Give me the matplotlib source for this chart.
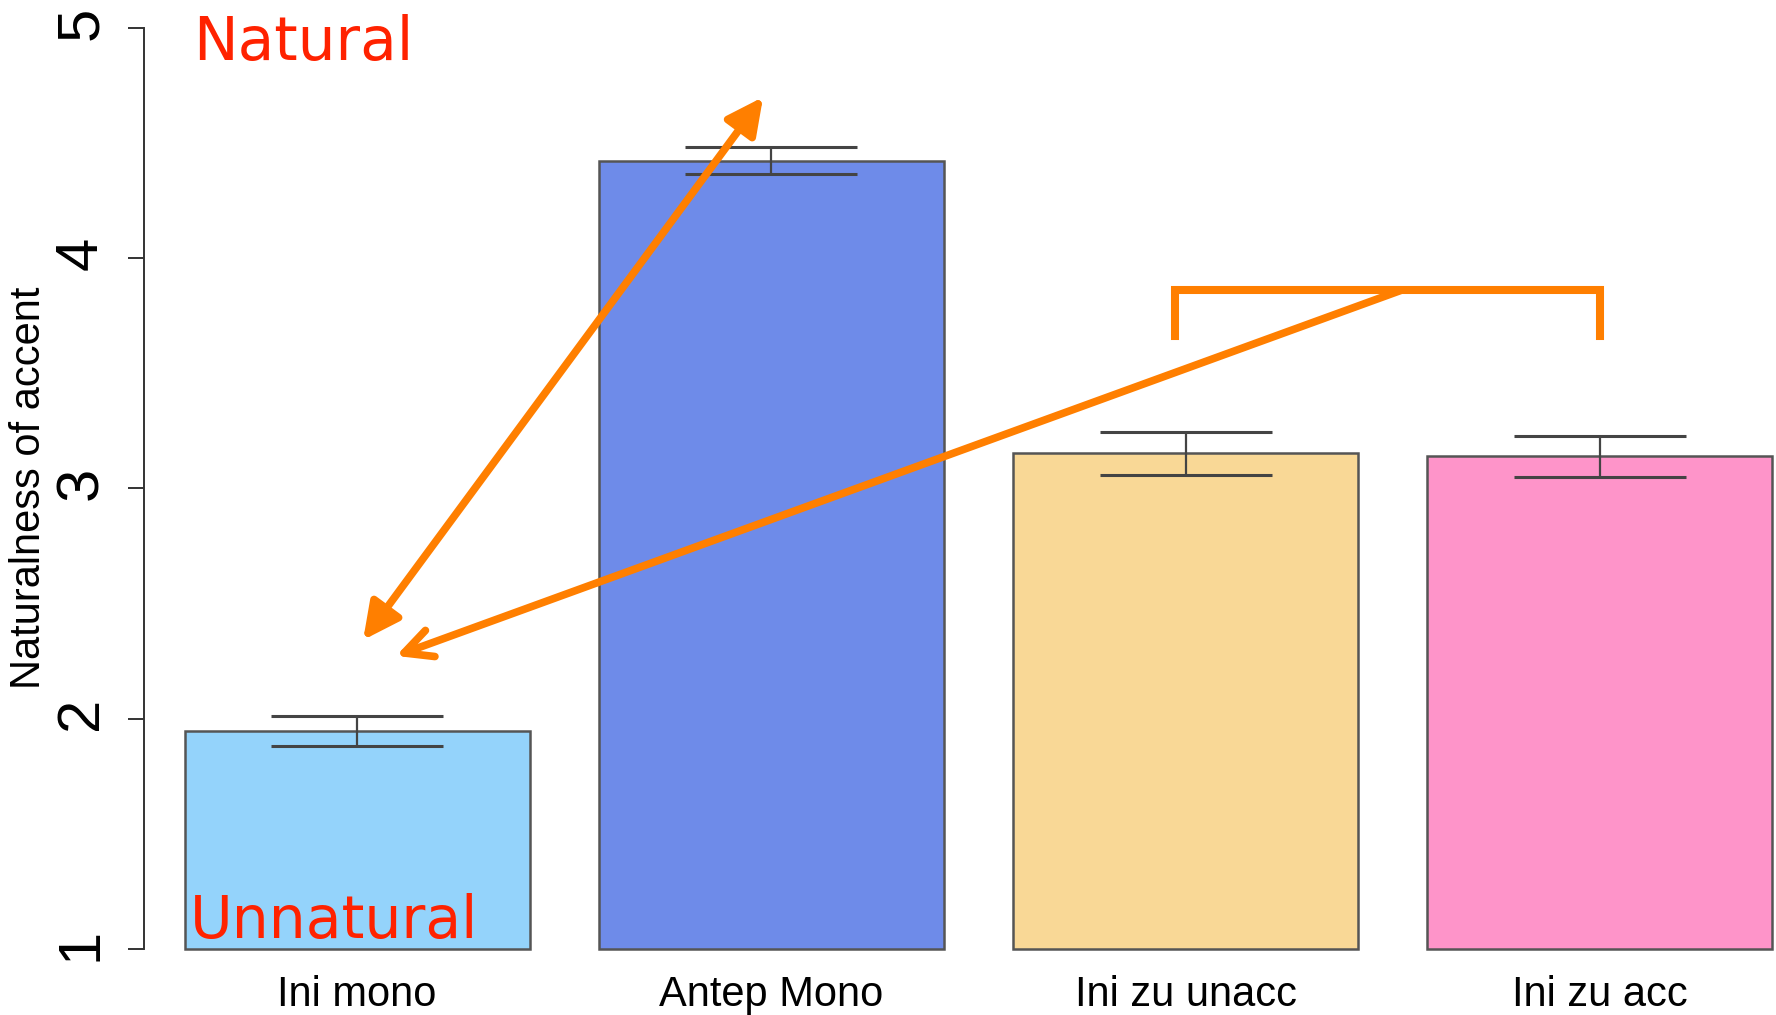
import numpy as np
import matplotlib
matplotlib.use('Agg')
import matplotlib.pyplot as plt

plt.rcParams['font.family'] = 'Liberation Sans'

# data
groups = ['Ini mono', 'Antep Mono', 'Ini zu unacc', 'Ini zu acc']
means = np.array([1.945, 4.424, 3.153, 3.140])
se = np.array([0.065, 0.057, 0.094, 0.090])
colors = ['#94D3FB', '#6E8BE9', '#F9D896', '#FE94C9']
yticks = [1, 2, 3, 4, 5]

orange = '#FF7F00'
red = '#FF2200'

fig = plt.figure(figsize=(17.76, 10.15), dpi=100)
ax = fig.add_axes([0, 66/1015, 1, 949/1015])

x = np.arange(len(groups))
ax.bar(x, means - 1, bottom=1, width=0.833, color=colors,
       edgecolor='#555555', linewidth=1.8, clip_on=False, zorder=2)
ax.errorbar(x, means, yerr=se, fmt='none', ecolor='#444444',
            elinewidth=1.6, capsize=62, capthick=2.2, zorder=3)

ax.set_xlim(-0.862, 3.425)
ax.set_ylim(1, 5.1216)

for s in ['top', 'right', 'bottom']:
    ax.spines[s].set_visible(False)
ax.spines['left'].set_position(('data', -0.514))
ax.spines['left'].set_bounds(1, 5)
ax.spines['left'].set_color('#333333')
ax.spines['left'].set_linewidth(1.4)

ax.set_yticks(yticks)
ax.tick_params(axis='y', labelsize=43, labelrotation=90, length=11.5,
               width=1.4, color='#333333', pad=14)
ax.set_xticks(x, groups)
ax.tick_params(axis='x', length=0, labelsize=30, pad=19)

ax.set_ylabel('Naturalness of accent', fontsize=30)
ax.yaxis.set_label_coords(49/1776, 0.486)

# annotations on top of the plot
ax.text(-0.397, 4.861, 'Natural', color=red, fontsize=43,
        family='DejaVu Sans', ha='left', va='baseline')
ax.text(-0.404, 1.048, 'Unnatural', color=red, fontsize=42,
        family='DejaVu Sans', ha='left', va='baseline', zorder=4)

ax.annotate('', xy=(0.0145, 2.342), xytext=(0.980, 4.700),
            arrowprops=dict(arrowstyle='<|-|>,head_length=1.1,head_width=0.55',
                            color=orange, lw=5.5, shrinkA=0, shrinkB=0,
                            mutation_scale=20), zorder=5)
ax.annotate('', xy=(0.094, 2.273), xytext=(2.522, 3.862),
            arrowprops=dict(arrowstyle='->,head_length=1.0,head_width=0.5',
                            color=orange, lw=5.5, shrinkA=0, shrinkB=0,
                            mutation_scale=20, capstyle='round'), zorder=5)
ax.plot([1.975, 1.975, 3.0, 3.0], [3.662, 3.862, 3.862, 3.662],
        color=orange, lw=5.8, solid_joinstyle='miter', zorder=5)

fig.savefig('out.png', dpi=100)
